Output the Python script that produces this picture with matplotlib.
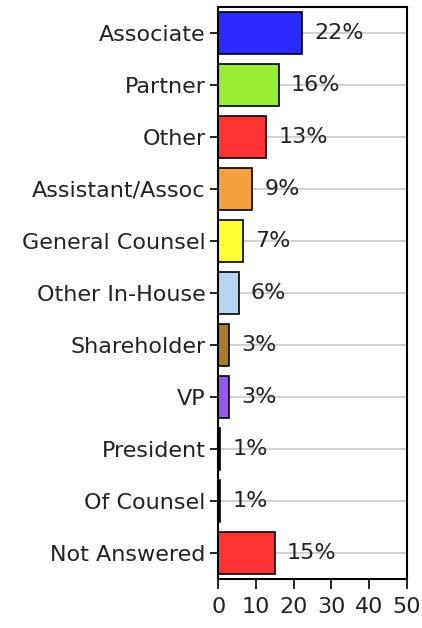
import matplotlib
matplotlib.use("Agg")
import matplotlib.pyplot as plt

# data, top to bottom
roles = ['Associate', 'Partner', 'Other', 'Assistant/Assoc', 'General Counsel',
         'Other In-House', 'Shareholder', 'VP', 'President', 'Of Counsel', 'Not Answered']
pct = [22, 16, 13, 9, 7, 6, 3, 3, 1, 1, 15]
bar_len = [22.2, 16.1, 12.8, 9.0, 6.6, 5.5, 2.9, 2.9, 0.5, 0.5, 15.0]
colors = ['#2a2aff', '#99ee33', '#ff3333', '#f5a040', '#ffff33', '#b5d5f5',
          '#a87c2c', '#9a55ee', '#222222', '#222222', '#ff3333']

plt.rcParams['font.family'] = ['DejaVu Sans']

fig = plt.figure(figsize=(4.22, 6.28), dpi=100)
ax = fig.add_axes([0.517, 0.078, 0.447, 0.911])

y = list(range(len(roles)))
ax.grid(axis='y', color='#c8c8c8', linewidth=1.2, zorder=0)
ax.set_axisbelow(True)
bars = ax.barh(y, bar_len, height=0.82, color=colors, edgecolor='black', linewidth=1.2, zorder=2)
for yi, v, p in zip(y, bar_len, pct):
    ax.text(v + 3.2, yi, f'{p}%', va='center', ha='left', fontsize=16, color='#222222', zorder=3)

ax.set_yticks(y)
ax.set_yticklabels(roles, fontsize=16, color='#222222')
ax.set_ylim(len(roles) - 0.5, -0.5)
ax.set_xlim(0, 50)
ax.set_xticks([0, 10, 20, 30, 40, 50])
ax.tick_params(axis='x', labelsize=16, labelcolor='#222222', length=7, width=1.2, pad=6)
ax.tick_params(axis='y', length=6, width=1.2, pad=3)
for s in ax.spines.values():
    s.set_linewidth(1.5)

fig.savefig('out.png', dpi=100)
